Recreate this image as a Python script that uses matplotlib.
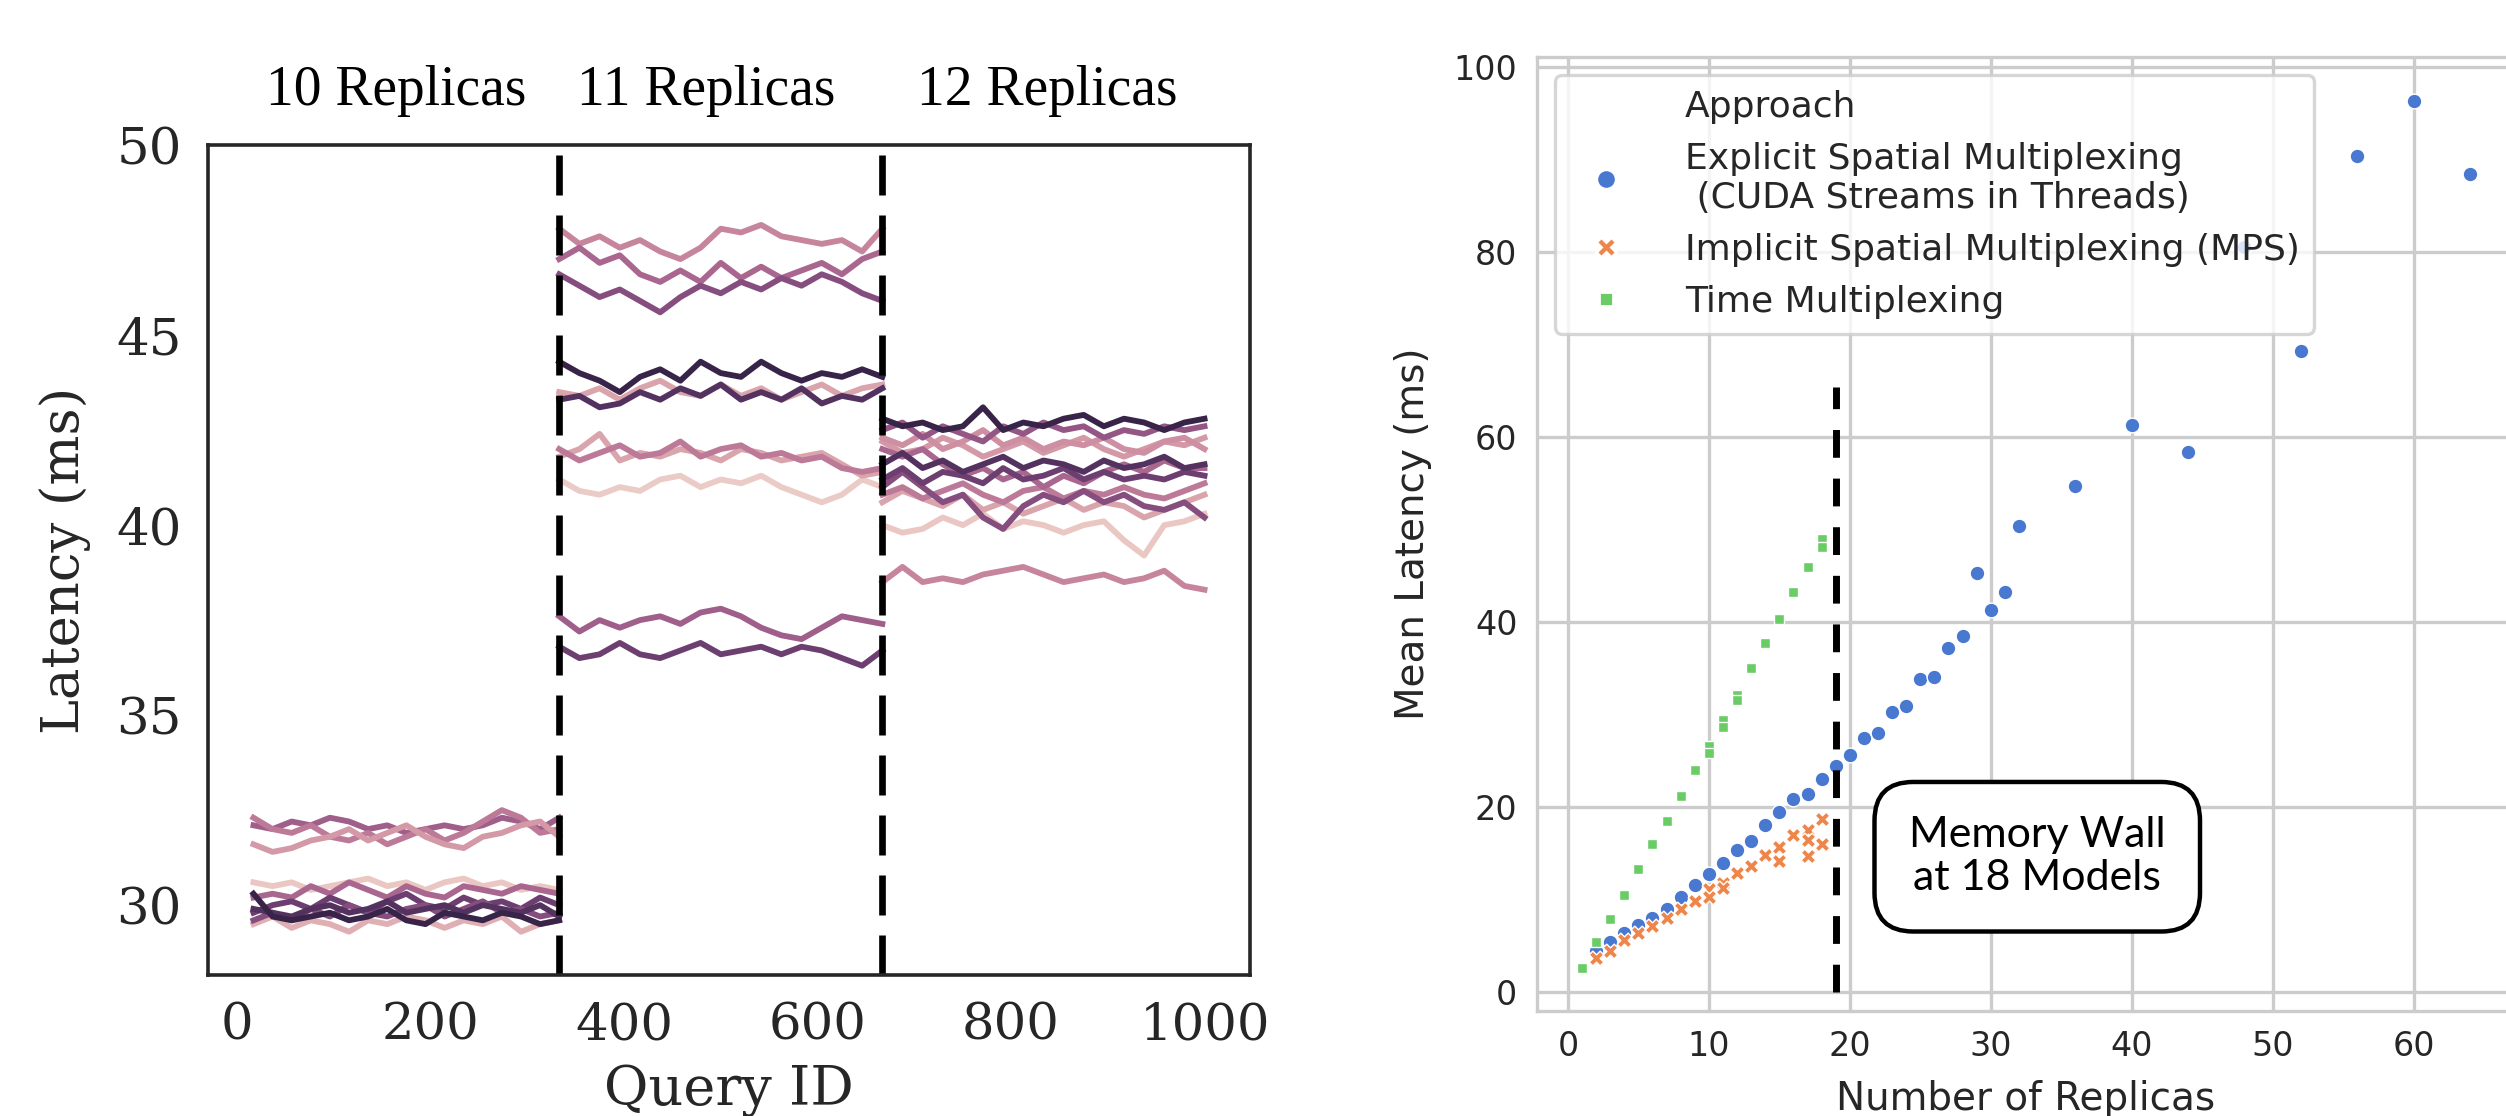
import numpy as np
import matplotlib.pyplot as plt
import seaborn as sns
from matplotlib.lines import Line2D

# ---------------- left panel data: latency per query (ms) ----------------
seg_bounds = [(17, 333), (333, 667), (667, 1000)]
seg_titles = ['10 Replicas', '11 Replicas', '12 Replicas']
title_x = [164, 485, 837]

# hue value per line (0 = light pink, 1 = dark purple), latencies sampled along the segment
lat_10 = [
    (0.55, [32.1, 32.0, 32.2, 32.1, 32.3, 32.2, 32.0, 32.1, 31.9, 32.0, 32.1, 32.0, 32.1, 32.3, 32.2, 32.0, 32.3]),
    (0.40, [32.3, 32.0, 31.9, 32.1, 31.8, 31.7, 31.9, 31.6, 31.8, 32.0, 31.7, 31.9, 32.2, 32.5, 32.3, 31.9, 32.0]),
    (0.25, [31.6, 31.4, 31.5, 31.7, 31.8, 32.0, 31.7, 31.9, 32.1, 31.8, 31.6, 31.5, 31.8, 31.9, 32.1, 32.2, 31.8]),
    (0.05, [30.6, 30.5, 30.6, 30.4, 30.5, 30.6, 30.7, 30.5, 30.6, 30.4, 30.6, 30.7, 30.5, 30.6, 30.4, 30.5, 30.4]),
    (0.50, [30.2, 30.3, 30.2, 30.5, 30.3, 30.6, 30.4, 30.2, 30.5, 30.3, 30.2, 30.5, 30.4, 30.3, 30.5, 30.4, 30.3]),
    (0.15, [29.5, 29.7, 29.4, 29.6, 29.5, 29.3, 29.6, 29.5, 29.7, 29.6, 29.4, 29.6, 29.5, 29.7, 29.3, 29.5, 29.6]),
    (0.75, [29.8, 30.0, 30.1, 29.9, 30.2, 30.0, 29.8, 30.1, 30.3, 30.0, 29.9, 30.2, 30.0, 30.1, 29.9, 30.2, 30.0]),
    (0.65, [29.6, 29.8, 29.6, 29.9, 29.7, 30.0, 29.8, 29.7, 29.9, 30.0, 29.7, 29.9, 30.1, 29.8, 29.9, 29.7, 29.8]),
    (0.85, [29.9, 29.8, 29.7, 29.9, 30.0, 29.8, 29.9, 30.1, 29.8, 29.9, 30.0, 29.8, 30.0, 29.9, 29.8, 30.0, 29.7]),
    (0.95, [30.3, 29.7, 29.6, 29.7, 29.8, 29.6, 29.7, 29.9, 29.6, 29.5, 29.8, 29.7, 29.6, 29.8, 29.7, 29.5, 29.6]),
]
lat_11 = [
    (0.35, [47.8, 47.4, 47.6, 47.3, 47.5, 47.2, 47.0, 47.3, 47.8, 47.7, 47.9, 47.6, 47.5, 47.4, 47.5, 47.2, 47.8]),
    (0.50, [47.0, 47.3, 46.9, 47.1, 46.6, 46.4, 46.7, 46.4, 46.9, 46.5, 46.8, 46.5, 46.7, 46.9, 46.6, 47.0, 47.2]),
    (0.65, [46.6, 46.3, 46.0, 46.2, 45.9, 45.6, 46.0, 46.3, 46.1, 46.4, 46.2, 46.5, 46.3, 46.6, 46.4, 46.1, 45.9]),
    (0.20, [43.5, 43.4, 43.6, 43.3, 43.6, 43.8, 43.5, 43.4, 43.7, 43.4, 43.6, 43.3, 43.5, 43.7, 43.4, 43.6, 43.7]),
    (0.85, [43.3, 43.4, 43.1, 43.2, 43.5, 43.3, 43.6, 43.4, 43.7, 43.3, 43.5, 43.3, 43.6, 43.2, 43.4, 43.3, 43.6]),
    (0.95, [44.3, 44.0, 43.8, 43.5, 43.9, 44.1, 43.8, 44.3, 44.0, 43.9, 44.3, 44.0, 43.8, 44.0, 43.9, 44.1, 43.9]),
    (0.03, [41.2, 40.9, 40.8, 41.0, 40.9, 41.2, 41.3, 41.0, 41.2, 41.1, 41.3, 41.0, 40.8, 40.6, 40.8, 41.2, 41.0]),
    (0.20, [41.8, 42.0, 42.4, 41.7, 41.9, 41.8, 42.0, 41.9, 41.7, 42.0, 41.9, 41.7, 41.8, 41.9, 41.6, 41.3, 41.4]),
    (0.40, [42.0, 41.7, 41.9, 42.1, 41.8, 41.9, 42.2, 41.8, 42.0, 42.1, 41.8, 41.9, 41.7, 41.8, 41.5, 41.4, 41.5]),
    (0.55, [37.6, 37.2, 37.5, 37.3, 37.5, 37.6, 37.4, 37.7, 37.8, 37.6, 37.3, 37.1, 37.0, 37.3, 37.6, 37.5, 37.4]),
    (0.75, [36.8, 36.5, 36.6, 36.9, 36.6, 36.5, 36.7, 36.9, 36.6, 36.7, 36.8, 36.6, 36.8, 36.7, 36.5, 36.3, 36.7]),
]
lat_12 = [
    (0.35, [38.5, 38.9, 38.5, 38.6, 38.5, 38.7, 38.8, 38.9, 38.7, 38.5, 38.6, 38.7, 38.5, 38.6, 38.8, 38.4, 38.3]),
    (0.05, [40.0, 39.8, 39.9, 40.2, 40.0, 40.3, 39.9, 40.1, 40.0, 39.8, 40.0, 40.1, 39.6, 39.2, 40.0, 40.1, 40.3]),
    (0.20, [40.6, 40.9, 40.7, 40.5, 40.8, 40.4, 40.6, 40.3, 40.5, 40.7, 40.4, 40.6, 40.5, 40.2, 40.4, 40.6, 40.8]),
    (0.40, [40.8, 41.0, 40.7, 40.9, 41.1, 40.8, 40.6, 40.9, 41.0, 40.7, 40.9, 40.8, 41.0, 40.8, 40.7, 40.9, 41.1]),
    (0.25, [42.2, 41.9, 42.0, 42.3, 42.1, 41.8, 42.0, 42.2, 41.9, 42.1, 42.3, 42.0, 41.8, 42.0, 42.2, 42.1, 42.3]),
    (0.30, [42.3, 42.1, 42.4, 42.0, 42.2, 42.5, 42.1, 42.3, 42.0, 42.2, 42.1, 42.3, 42.0, 41.9, 42.2, 42.3, 42.0]),
    (0.50, [42.0, 41.8, 42.0, 41.6, 41.3, 41.5, 41.2, 41.4, 41.0, 41.3, 41.1, 41.4, 41.6, 41.4, 41.7, 41.5, 41.5]),
    (0.65, [41.0, 41.4, 41.0, 40.6, 40.8, 40.2, 39.9, 40.5, 40.8, 40.6, 40.9, 40.6, 40.8, 40.5, 40.4, 40.6, 40.2]),
    (0.60, [42.5, 42.7, 42.3, 42.6, 42.4, 42.2, 42.6, 42.4, 42.7, 42.5, 42.6, 42.3, 42.5, 42.4, 42.6, 42.5, 42.6]),
    (0.75, [41.2, 41.5, 41.1, 41.4, 41.3, 41.1, 41.5, 41.2, 41.3, 41.5, 41.2, 41.4, 41.2, 41.3, 41.2, 41.4, 41.3]),
    (0.85, [41.6, 41.9, 41.5, 41.7, 41.4, 41.6, 41.8, 41.5, 41.7, 41.6, 41.4, 41.7, 41.5, 41.6, 41.8, 41.5, 41.6]),
    (0.95, [42.8, 42.6, 42.7, 42.5, 42.6, 43.1, 42.5, 42.7, 42.6, 42.8, 42.9, 42.6, 42.8, 42.7, 42.5, 42.7, 42.8]),
]
segments = [lat_10, lat_11, lat_12]

# ---------------- right panel data: mean latency vs number of replicas ----------------
explicit_n = [2, 3, 4, 5, 6, 7, 8, 9, 10, 11, 12, 13, 14, 15, 16, 17, 18, 19, 20, 21, 22, 23, 24,
              25, 26, 27, 28, 29, 30, 31, 32, 36, 40, 44, 48, 52, 56, 60, 64]
explicit_lat = [4.4, 5.4, 6.4, 7.2, 8.0, 9.0, 10.2, 11.5, 12.7, 13.9, 15.3, 16.3, 18.0, 19.4, 20.8,
                21.4, 23.0, 24.4, 25.6, 27.4, 28.0, 30.2, 30.9, 33.8, 34.0, 37.2, 38.5, 45.3, 41.3,
                43.2, 50.3, 54.7, 61.3, 58.4, 80.5, 69.3, 90.3, 96.3, 88.4]
implicit_n = [2, 3, 4, 5, 6, 7, 8, 9, 10, 10, 11, 11, 12, 13, 14, 15, 15, 16, 17, 17, 17, 18, 18]
implicit_lat = [3.6, 4.4, 5.6, 6.4, 7.1, 8.0, 8.9, 9.8, 11.1, 10.3, 11.8, 11.2, 12.8, 13.6, 14.8,
                15.7, 14.1, 16.9, 17.5, 14.7, 16.4, 18.7, 16.0]
time_n = [1, 2, 3, 4, 5, 6, 7, 8, 9, 10, 10, 11, 11, 12, 12, 13, 14, 15, 16, 17, 18, 18]
time_lat = [2.6, 5.4, 7.9, 10.5, 13.3, 16.0, 18.5, 21.2, 24.0, 26.6, 25.8, 29.4, 28.6, 32.1, 31.5,
            35.0, 37.7, 40.3, 43.2, 45.9, 48.9, 48.1]
approaches = ['Explicit Spatial Multiplexing\n (CUDA Streams in Threads)',
              'Implicit Spatial Multiplexing (MPS)',
              'Time Multiplexing']
memory_wall = 19

fig = plt.figure(figsize=(12.53, 5.58), dpi=200)

# ---------------- left panel ----------------
cmap = sns.cubehelix_palette(as_cmap=True)
ax1 = fig.add_axes([0.0830, 0.1263, 0.4158, 0.7437])
for (lo, hi), lines in zip(seg_bounds, segments):
    for hue, ys in lines:
        xs = np.linspace(lo, hi, len(ys))
        ax1.plot(xs, ys, color=cmap(hue), lw=2.1)
for lo, hi in seg_bounds[1:]:
    ax1.axvline(lo, color='black', lw=2.4, ls=(0, (6, 3)))
for tx, t in zip(title_x, seg_titles):
    ax1.text(tx, 50.75, t, ha='center', va='bottom', fontsize=20, family='Liberation Serif')

ax1.set_xlim(-30, 1047)
ax1.set_ylim(28.16, 50)
ax1.set_xticks(range(0, 1001, 200))
ax1.set_yticks([30, 35, 40, 45, 50])
ax1.tick_params(length=0, pad=9.5, labelsize=18.5, labelcolor='#262626')
for lab in ax1.get_xticklabels() + ax1.get_yticklabels():
    lab.set_family('DejaVu Serif')
for s in ax1.spines.values():
    s.set_color('#262626')
    s.set_linewidth(1.3)
ax1.set_xlabel('Query ID', fontsize=19.5, family='DejaVu Serif', color='#262626', labelpad=5)
ax1.set_ylabel('Latency (ms)', fontsize=19, family='DejaVu Serif', color='#262626', labelpad=9)

# ---------------- right panel ----------------
pal = sns.color_palette('muted')
ax2 = fig.add_axes([0.6133, 0.0943, 0.3903, 0.8546])
ax2.set_axisbelow(True)
ax2.grid(True, color='#cccccc', lw=1.2)
for s in ax2.spines.values():
    s.set_color('#cccccc')
    s.set_linewidth(1.2)
ax2.scatter(explicit_n, explicit_lat, s=28, marker='o', color=pal[0], edgecolor='white', lw=0.5, zorder=3)
ax2.scatter(implicit_n, implicit_lat, s=28, marker='X', color=pal[1], edgecolor='white', lw=0.5, zorder=3)
ax2.scatter(time_n, time_lat, s=28, marker=(4, 0, 45), color=pal[2], edgecolor='white', lw=0.5, zorder=3)
ax2.plot([memory_wall, memory_wall], [0, 65.4], color='black', lw=2.5, ls=(0, (4, 3)), zorder=4)
ax2.text(33.3, 14.6, 'Memory Wall\nat 18 Models', ha='center', va='center', fontsize=15.5,
         family='Lato', linespacing=1.15, zorder=5,
         bbox=dict(boxstyle='round,pad=0.8,rounding_size=0.9', fc='white', ec='black', lw=1.6))

ax2.set_xlim(-2.2, 67.2)
ax2.set_ylim(-2.05, 101.05)
ax2.set_xticks(range(0, 61, 10))
ax2.set_yticks(range(0, 101, 20))
ax2.tick_params(length=0, pad=7, labelsize=12, labelcolor='#262626')
ax2.set_xlabel('Number of Replicas', fontsize=14, color='#262626', labelpad=6)
ax2.set_ylabel('Mean Latency (ms)', fontsize=14, color='#262626', labelpad=8)

handles = [Line2D([], [], ls='none', marker='')]
handles += [Line2D([], [], ls='none', marker=m, color=c, markeredgecolor='white', markersize=7)
            for m, c in zip(['o', 'X', (4, 0, 45)], pal[:3])]
leg = ax2.legend(handles, ['Approach'] + approaches, loc='upper left', fontsize=13,
                 framealpha=0.8, edgecolor='#cccccc', labelcolor='#262626', handletextpad=1.2)
leg.get_frame().set_linewidth(1.2)

fig.savefig('out.png', dpi=200)
